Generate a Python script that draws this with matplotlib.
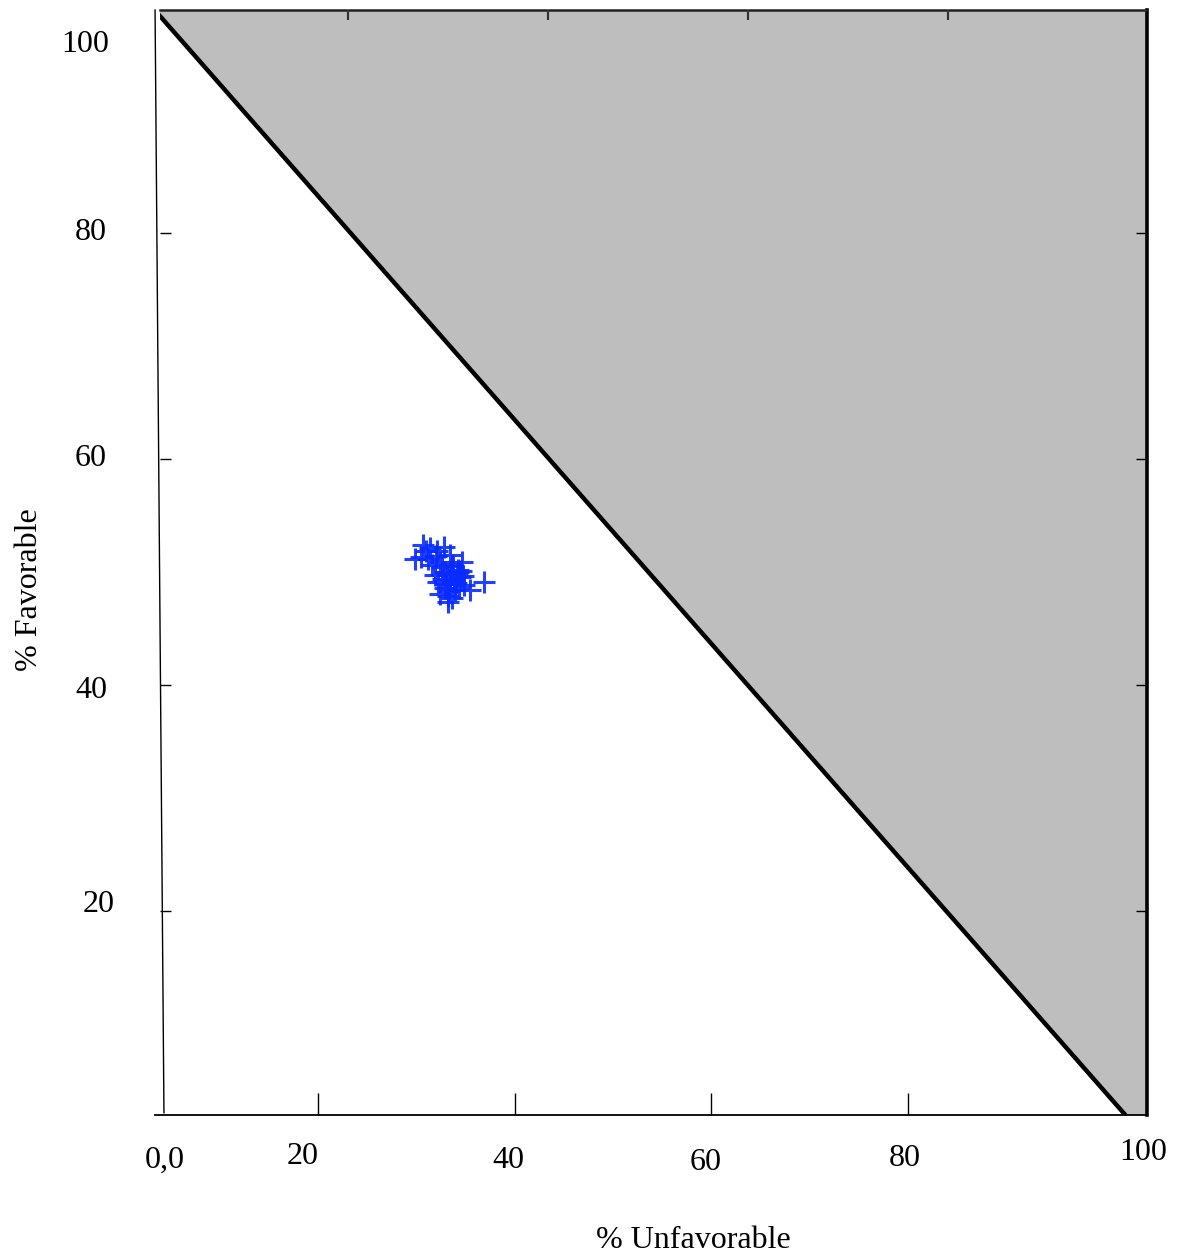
import matplotlib
matplotlib.use("Agg")
import matplotlib.pyplot as plt

# poll points: % unfavorable vs % favorable
unfav = [30.7, 29.9, 31.4, 32.1, 32.8, 33.4, 31.2, 32.4, 33.6, 34.2, 32.9, 31.9,
         33.4, 34.4, 34.9, 33.9, 32.9, 32.4, 33.6, 35.5, 36.9, 33.2, 31.6, 34.6,
         32.2, 34.0, 33.1, 32.6, 33.5, 34.1, 33.8, 33.0, 34.5, 33.3, 32.7, 34.3,
         33.7, 34.8, 33.2, 31.0, 30.5, 32.0, 33.9, 34.2]
fav = [52.4, 51.1, 52.1, 51.8, 52.2, 51.5, 51.1, 50.9, 50.6, 50.2, 50.0, 49.7,
       49.3, 49.5, 48.8, 48.4, 48.6, 48.0, 47.7, 48.4, 49.1, 47.3, 50.6, 50.9,
       49.1, 49.0, 49.7, 50.4, 49.9, 49.8, 49.2, 48.9, 50.1, 48.3, 49.4, 48.6,
       50.5, 49.6, 47.9, 51.8, 51.3, 51.4, 48.9, 50.0]

# boundary where favorable + unfavorable reaches the total
bound_x = [3.4, 102.1]
bound_y = [99.7, 1.95]

x_ticks = [20, 40, 60, 80]
y_ticks = [20, 40, 60, 80]
top_ticks = [23.05, 43.4, 63.7, 84.1]
x_labels = ["0,0", "20", "40", "60", "80", "100"]
x_label_px = [(165, 1160), (303, 1157), (508, 1160), (706, 1162), (905, 1158), (1143, 1152)]
y_labels = ["100", "80", "60", "40", "20"]
y_label_px = [(85, 45), (91, 233), (91, 459), (91, 690), (99, 905)]

W, H = 1178, 1260
fig = plt.figure(figsize=(W / 100, H / 100), dpi=100)
ax = fig.add_axes([160 / W, 1 - 1115 / H, (1147 - 160) / W, (1115 - 10) / H])
xmin, xmax = 3.94, 104.3
ymin, ymax = 1.95, 99.7
ax.set_xlim(xmin, xmax)
ax.set_ylim(ymin, ymax)

ax.fill([bound_x[0], bound_x[1], xmax, xmax], [bound_y[0], bound_y[1], ymin, ymax],
        color="#bebebe", zorder=1)
ax.plot(bound_x, bound_y, color="black", lw=3.2, zorder=3, solid_capstyle="butt")
ax.plot(unfav, fav, linestyle="none", marker="+", markersize=16, mew=2.2,
        color="#0a2bff", alpha=0.9, zorder=4)

ax.spines["left"].set_visible(False)
ax.spines["bottom"].set_visible(False)
ax.spines["top"].set_linewidth(1.8)
ax.spines["top"].set_color("#222222")
ax.spines["right"].set_linewidth(2.6)
ax.spines["right"].set_color("black")
# slightly skewed left edge and bottom edge
ax.plot([-0.005, 0.004], [1.0, 0.002], transform=ax.transAxes, color="black",
        lw=1.0, clip_on=False, zorder=5)
ax.plot([-0.005, 1.0], [0.0, 0.0], transform=ax.transAxes, color="black",
        lw=1.3, clip_on=False, zorder=5)

ax.set_xticks(x_ticks)
ax.set_yticks(y_ticks)
ax.tick_params(axis="x", direction="in", length=16, width=1.0, labelbottom=False)
ax.tick_params(axis="y", direction="in", length=8, width=1.0, labelleft=False,
               right=True)
ax2 = ax.twiny()
ax2.set_xlim(xmin, xmax)
ax2.set_xticks(top_ticks)
ax2.tick_params(axis="x", direction="in", length=7, width=1.6, color="#333333",
                labeltop=False)
for s in ax2.spines.values():
    s.set_visible(False)

font = dict(family="Liberation Serif", fontsize=23, color="black")
for lab, (px, py) in zip(x_labels, x_label_px):
    fig.text(px / W, 1 - py / H, lab, ha="center", va="center", **font)
for lab, (px, py) in zip(y_labels, y_label_px):
    fig.text(px / W, 1 - py / H, lab, ha="center", va="center", **font)

fig.text(693 / W, 1 - 1240 / H, "% Unfavorable", ha="center", va="center", **font)
fig.text(30 / W, 1 - 590 / H, "% Favorable", ha="center", va="center",
         rotation=90, **font)

fig.savefig("out.png", dpi=100)
